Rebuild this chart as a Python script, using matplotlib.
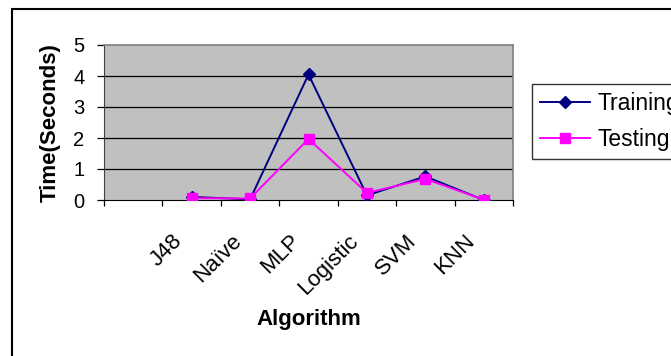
import numpy as np
import matplotlib
matplotlib.use("Agg")
import matplotlib.pyplot as plt
from matplotlib.patches import Rectangle

plt.rcParams['font.family'] = ['Liberation Sans', 'DejaVu Sans']

# first category is an empty slot in the original sheet
categories = ['', 'J48', 'Naïve', 'MLP', 'Logistic', 'SVM', 'KNN']
training = [np.nan, 0.10, 0.02, 4.05, 0.15, 0.76, 0.00]
testing = [np.nan, 0.06, 0.05, 1.97, 0.23, 0.68, 0.01]
y_ticks = [0, 1, 2, 3, 4, 5]

fig = plt.figure(figsize=(6.71, 3.56), dpi=100)
ax = fig.add_axes([104 / 671, 1 - 200 / 356, 409 / 671, 155 / 356])
ax.set_facecolor('#C0C0C0')

x = np.arange(len(categories))
ax.plot(x, training, color='#000080', lw=1.4, marker='D', ms=6.5,
        label='Training', zorder=3)
ax.plot(x, testing, color='#FF00FF', lw=1.4, marker='s', ms=7.5,
        label='Testing', zorder=4)

ax.set_xlim(-0.5, len(categories) - 0.5)
ax.set_ylim(0, 5)

# gridlines (black) except top border
for v in y_ticks[1:-1]:
    ax.axhline(v, color='black', lw=0.9, zorder=1)

ax.set_yticks(y_ticks)
ax.tick_params(axis='y', direction='out', length=5, width=0.9, pad=9,
               labelsize=14.5)

# ticks on category boundaries, labels drawn below the category centres
ax.set_xticks(np.arange(-0.5, len(categories), 1.0))
ax.set_xticklabels([])
ax.tick_params(axis='x', which='major', direction='out', length=4.5, width=0.9)
for xi, name in zip(x, categories):
    ax.annotate(name, xy=(xi, 0), xycoords=('data', 'axes fraction'),
                xytext=(-14, -22), textcoords='offset points',
                rotation=45, ha='right', va='top', rotation_mode='anchor',
                fontsize=16)

for s in ['top', 'right']:
    ax.spines[s].set_color('#808080')
    ax.spines[s].set_linewidth(1.2)
ax.spines['left'].set_color('#404040')
ax.spines['bottom'].set_color('black')

ax.set_ylabel('Time(Seconds)', fontsize=16, fontweight='bold')
ax.yaxis.set_label_coords(-0.105, 0.5)
ax.set_xlabel('Algorithm', fontsize=16, fontweight='bold')
ax.xaxis.set_label_coords(0.5, -0.70)

leg = fig.legend(loc='upper left', bbox_to_anchor=(532 / 671, 1 - 84 / 356),
                 borderaxespad=0, fontsize=16.5, frameon=True, fancybox=False,
                 edgecolor='black', handlelength=2.2, handletextpad=0.3,
                 borderpad=0.35, labelspacing=0.55)
leg.get_frame().set_linewidth(1.0)

# outer chart frame (runs past the right and bottom edges)
fig.add_artist(Rectangle((11.5 / 671, -0.5), 2.0, 1.5 - 8.5 / 356,
                         transform=fig.transFigure, fill=False,
                         edgecolor='black', lw=1.5, clip_on=False))

fig.savefig('out.png', dpi=100)
